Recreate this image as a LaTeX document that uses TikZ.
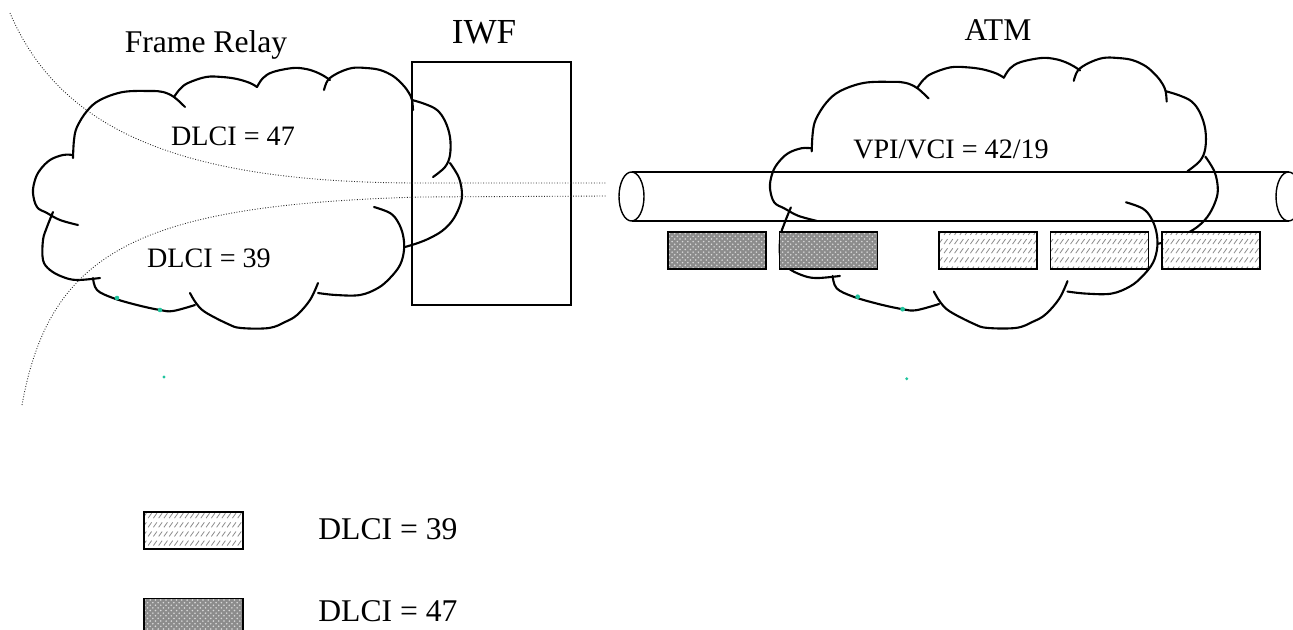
\documentclass[tikz,border=0pt]{standalone}
\usepackage{fontspec}
\setmainfont{Liberation Serif}
\usepackage{xcolor}
\definecolor{cLine}{HTML}{000000}
\definecolor{cHatch}{HTML}{8C8C8C}
\definecolor{cTeal}{HTML}{21C49E}
\usepackage{tikz}
\usetikzlibrary{positioning,patterns}
% short slashes in rows, for the DLCI 39 cells
\pgfdeclarepatternformonly{slash rows}{\pgfqpoint{-0.5pt}{-0.5pt}}{\pgfqpoint{3.5pt}{5.7pt}}{\pgfqpoint{3pt}{5.2pt}}{%
  \pgfsetlinewidth{0.45pt}%
  \pgfpathmoveto{\pgfqpoint{0.3pt}{0.7pt}}%
  \pgfpathlineto{\pgfqpoint{2.3pt}{3.5pt}}%
  \pgfusepath{stroke}}
\tikzset{
  cloud-line/.style={draw=cLine,line width=1.2pt,line join=round,line cap=round},
  iwf-box/.style={draw=cLine,line width=0.6pt,minimum width=3.18cm,
    minimum height=4.86cm,inner sep=0pt},
  tube-line/.style={draw=cLine,line width=0.8pt},
  vc-path/.style={densely dotted,line width=0.5pt,draw=black!85},
  cell/.style={draw=cLine,line width=0.9pt,minimum width=1.96cm,
    minimum height=0.74cm,inner sep=0pt},
  cell-47/.style={cell,preaction={fill=black!45},pattern=crosshatch dots,
    pattern color=white!85!black},
  cell-39/.style={cell,preaction={fill=white},pattern=slash rows,pattern color=cHatch},
  label-net/.style={font=\fontsize{18}{22}\selectfont,anchor=base},
  label-vc/.style={font=\fontsize{16}{19}\selectfont,anchor=base},
  label-key/.style={font=\fontsize{18}{22}\selectfont,inner sep=0pt,anchor=base west},
  % clip-art cloud, in pixel units
  netcloud/.pic={
    \draw[cloud-line] plot[smooth,tension=0.6] coordinates {(73,158) (74,140) (77,127)
      (87,111) (100,100) (123,92) (150,91) (163,92) (174,97) (185,107)};
    \draw[cloud-line] plot[smooth,tension=0.6] coordinates {(174,97) (180,89) (188,83)
      (206,77) (222,77) (237,79) (250,83) (257,87)};
    \draw[cloud-line] plot[smooth,tension=0.6] coordinates {(257,87) (263,78) (273,72)
      (293,68) (306,69) (316,72) (324,76) (330,80)};
    \draw[cloud-line] plot[smooth,tension=0.6] coordinates {(324,90) (328,80) (338,73)
      (352,68) (366,68) (380,70) (393,76) (403,85) (409,93) (412,100) (413,110)};
    \draw[cloud-line] plot[smooth,tension=0.6] coordinates {(412,100) (425,104) (437,110)
      (445,121) (450,137) (450,155) (445,167) (433,177)};
    \draw[cloud-line] plot[smooth,tension=0.6] coordinates {(405,247) (418,243) (430,238)
      (442,231) (452,221) (459,208) (462,195) (459,178) (450,163)};
    \draw[cloud-line] plot[smooth,tension=0.6] coordinates {(318,293) (336,295) (360,295)
      (378,288) (390,278) (400,265) (404,250) (403,235) (398,222) (390,213) (374,207)};
    \draw[cloud-line] plot[smooth,tension=0.6] coordinates {(190,293) (196,303) (205,312)
      (228,324) (241,328) (269,328) (285,322) (297,315) (310,300) (318,283)};
    \draw[cloud-line] plot[smooth,tension=0.6] coordinates {(93,278) (97,290) (113,298)
      (137,305) (160,310) (173,311) (195,305)};
    \draw[cloud-line] plot[smooth,tension=0.6] coordinates {(53,212) (47,227) (43,240)
      (43,260) (50,270) (63,277) (77,280) (100,278)};
    \draw[cloud-line] plot[smooth,tension=0.6] coordinates {(73,155) (63,155) (50,160)
      (40,170) (35,180) (33,193) (37,207) (47,213) (60,220) (78,225)};
    \fill[cTeal] (117,298) circle[radius=1.3pt] (160,310) circle[radius=1.3pt]
      (164,377) circle[radius=0.9pt];
  }
}

\begin{document}
\begin{tikzpicture}[x=0.02cm,y=-0.02cm]
  \useasboundingbox (0,0) rectangle (1293,629);
  % networks
  \pic (frcloud) at (0,0) {netcloud};
  \pic[xscale=1.044,yscale=1.038] (atmcloud) at (735.5,-12.6) {netcloud};
  \node[iwf-box] (iwf) at (491.5,183.5) {};

  % virtual circuits
  \coordinate (vc47-in)  at (10,13);
  \coordinate (vc47-out) at (607,183);
  \coordinate (vc39-in)  at (22,405);
  \coordinate (vc39-out) at (607,196);
  \draw[vc-path] (vc47-in) .. controls (60,130) and (180,183) .. (420,183) -- (vc47-out);
  \draw[vc-path] (vc39-in) .. controls (50,250) and (140,205) .. (420,197) -- (vc39-out);

  % ATM tube
  \coordinate (tube-w) at (631.5,196.5);
  \coordinate (tube-e) at (1288.5,196.5);
  \draw[tube-line] (631.5,172) -- (1288.5,172) (631.5,221) -- (1288.5,221);
  \draw[tube-line] (tube-w) ellipse [x radius=0.25cm,y radius=0.49cm];
  \draw[tube-line] (tube-e) ellipse [x radius=0.25cm,y radius=0.49cm];

  % cells
  \node[cell-47] (cell47a) at (717,250.5) {};
  \node[cell-47,right=0.24cm of cell47a] (cell47b) {};
  \node[cell-39,right=1.2cm of cell47b] (cell39a) {};
  \node[cell-39,right=0.24cm of cell39a] (cell39b) {};
  \node[cell-39,right=0.24cm of cell39b] (cell39c) {};

  % labels
  \node[label-net] (frlabel) at (206,52) {Frame Relay};
  \node[label-net,font=\fontsize{20}{24}\selectfont] (iwflabel) at (484,43) {IWF};
  \node[label-net] (atmlabel) at (998,40) {ATM};
  \node[label-vc] (dlci47) at (233,145) {DLCI = 47};
  \node[label-vc] (dlci39) at (209,267) {DLCI = 39};
  \node[label-vc] (vpivci) at (951,158) {VPI/VCI = 42/19};

  % legend
  \node[cell-39,minimum width=1.98cm] (key39) at (193.5,530.5) {};
  \node[cell-47,minimum width=1.98cm,below=0.96cm of key39] (key47) {};
  \node[label-key] (key39text) at (318,539) {DLCI = 39};
  \node[label-key] (key47text) at (318,621) {DLCI = 47};
\end{tikzpicture}
\end{document}
